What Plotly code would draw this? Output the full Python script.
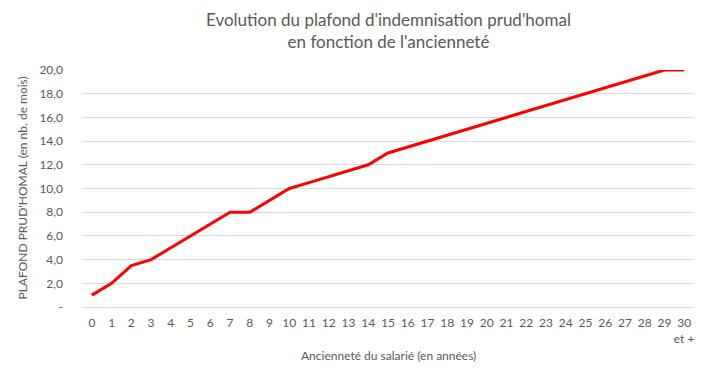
import plotly.graph_objects as go

categories = [str(i) for i in range(30)] + ["30<br>et +"]
plafond = [1, 2, 3.5, 4, 5, 6, 7, 8, 8, 9, 10, 10.5, 11, 11.5, 12, 13, 13.5, 14, 14.5, 15,
           15.5, 16, 16.5, 17, 17.5, 18, 18.5, 19, 19.5, 20, 20]
y_ticks = [0, 2, 4, 6, 8, 10, 12, 14, 16, 18, 20]
y_ticktext = ["-", "2,0", "4,0", "6,0", "8,0", "10,0", "12,0", "14,0", "16,0", "18,0", "20,0"]

FONT = "Lato, 'Open Sans', sans-serif"
GREY = "#595959"

fig = go.Figure()
fig.add_trace(go.Scatter(x=list(range(len(categories))), y=plafond, mode="lines",
                         line=dict(color="#ff0000", width=3), hoverinfo="skip"))

fig.update_layout(
    width=707, height=380,
    margin=dict(l=82, r=13, t=70, b=73, autoexpand=False),
    paper_bgcolor="white", plot_bgcolor="white",
    showlegend=False,
    font=dict(family=FONT, color=GREY, size=12),
    xaxis=dict(
        tickmode="array", tickvals=list(range(len(categories))), ticktext=categories,
        range=[-0.5, 30.5], showgrid=False, zeroline=False,
        showline=True, linecolor="#d9d9d9", linewidth=1,
        ticks="", ticklabelstandoff=5, tickfont=dict(size=12, color=GREY), automargin=False,
    ),
    yaxis=dict(
        tickmode="array", tickvals=y_ticks, ticktext=y_ticktext,
        range=[0, 20], showgrid=True, gridcolor="#d9d9d9", gridwidth=1,
        zeroline=False, showline=False, ticks="",
        ticklabelstandoff=18, tickfont=dict(size=12, color=GREY), automargin=False,
    ),
    annotations=[
        dict(text="Evolution du plafond d'indemnisation prud'homal<br>en fonction de l'ancienneté",
             xref="paper", yref="paper", x=0.5, y=1 + 40 / 237, xanchor="center", yanchor="middle",
             showarrow=False, font=dict(family=FONT, size=17, color=GREY)),
        dict(text="Ancienneté du salarié (en années)", xref="paper", yref="paper",
             x=0.5, y=-48 / 237, xanchor="center", yanchor="middle", showarrow=False,
             font=dict(size=12, color=GREY)),
        dict(text="PLAFOND PRUD'HOMAL (en nb. de mois)", xref="paper", yref="paper",
             x=-60 / 612, y=0.5, xanchor="center", yanchor="middle", textangle=-90,
             showarrow=False, font=dict(size=12, color=GREY)),
    ],
)

fig.write_html("out.html", config={"displayModeBar": False},
               post_script="document.body.style.margin='0';document.body.style.padding='0';")
